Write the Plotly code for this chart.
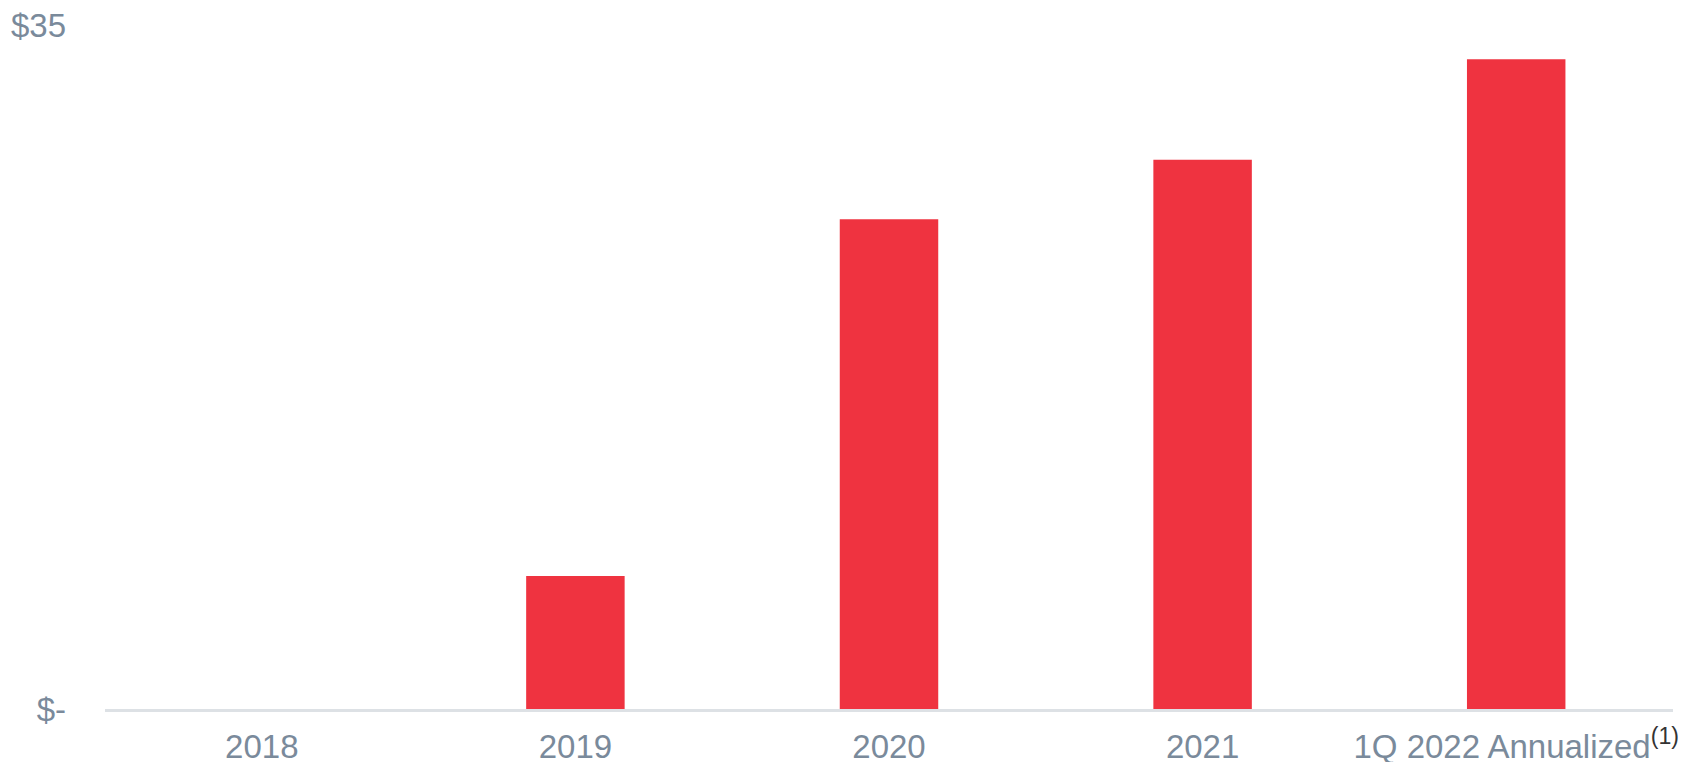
import plotly.graph_objects as go

categories = ["2018", "2019", "2020", "2021",
              "1Q 2022 Annualized<sup><span style='color:#333333'>(1)</span></sup>"]
values = [0.0, 6.8, 25.06, 28.1, 33.25]
y_tickvals = [0, 35]
y_ticktext = ["$-", "$35"]

BAR_COLOR = "#EF3340"
TEXT_COLOR = "#7A8A9B"

fig = go.Figure(
    go.Bar(x=categories, y=values, marker=dict(color=BAR_COLOR, line=dict(width=0)),
           hoverinfo="skip")
)

fig.update_layout(
    width=1696, height=762,
    margin=dict(l=105, r=23, t=25, b=53),
    paper_bgcolor="white", plot_bgcolor="white",
    bargap=0.686,
    showlegend=False,
    font=dict(family="Liberation Sans, Arial, sans-serif", size=33, color=TEXT_COLOR),
)
fig.update_xaxes(
    showgrid=False, zeroline=False, automargin=False,
    showline=True, linecolor="#DDE1E5", linewidth=3,
    ticks="", ticklabelstandoff=6, tickfont=dict(size=33, color=TEXT_COLOR),
)
fig.update_yaxes(
    range=[0, 35], showgrid=False, zeroline=False, showline=False, automargin=False,
    tickvals=y_tickvals, ticktext=y_ticktext,
    ticks="", ticklabelstandoff=38,
    tickfont=dict(size=33, color=TEXT_COLOR),
)

fig.write_html("out.html")
